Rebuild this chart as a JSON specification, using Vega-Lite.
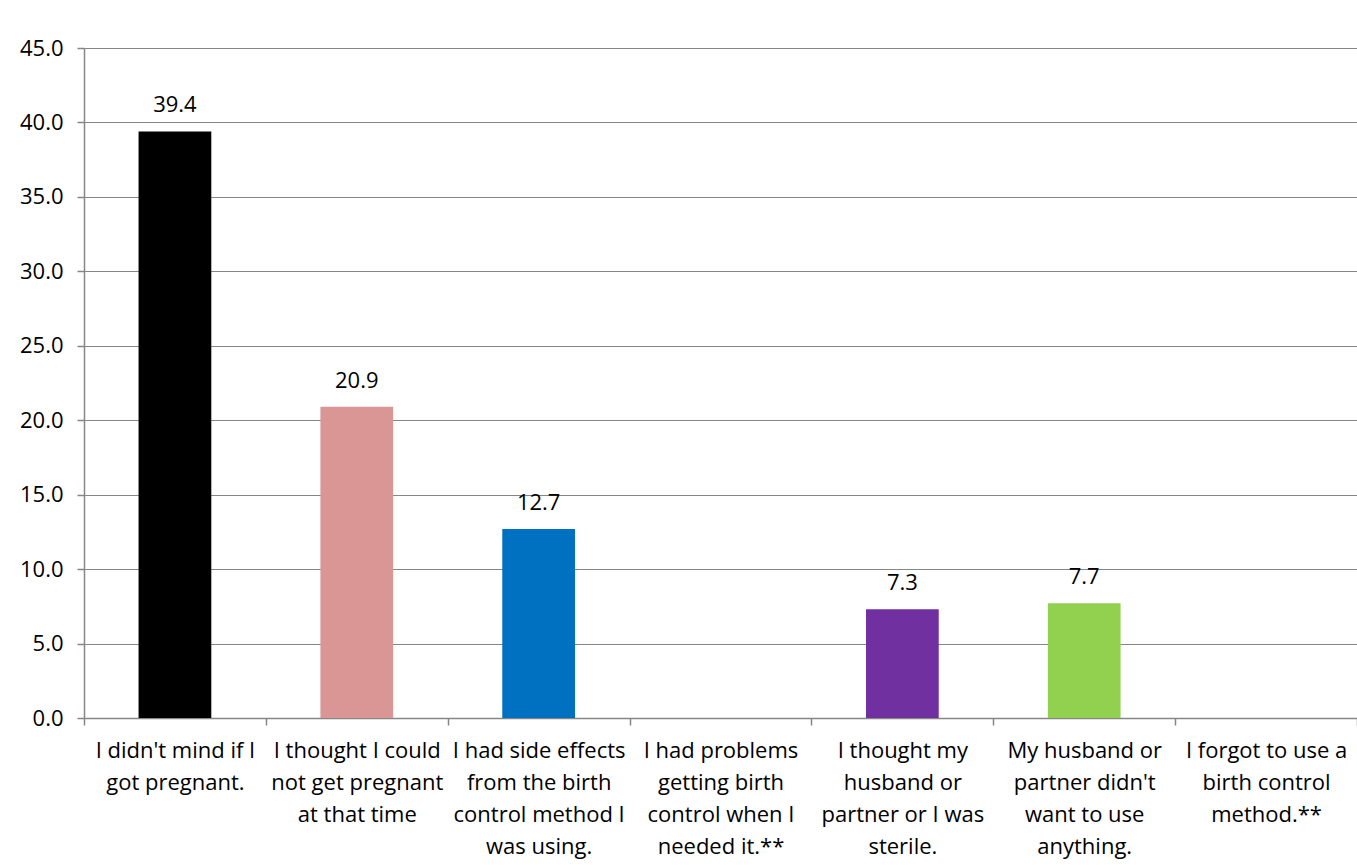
{
  "$schema": "https://vega.github.io/schema/vega-lite/v6.json",
  "width": 1273,
  "height": 670,
  "autosize": {"type": "none"},
  "padding": {"left": 84, "top": 48, "right": 0, "bottom": 147},
  "background": "white",
  "config": {
    "view": {"stroke": null},
    "font": "Open Sans",
    "axis": {
      "labelFont": "Open Sans",
      "labelFontSize": 22,
      "labelColor": "#000000",
      "domainColor": "#868686",
      "tickColor": "#868686",
      "gridColor": "#868686",
      "domainWidth": 1.5,
      "gridWidth": 1.2,
      "tickWidth": 1.5,
      "tickSize": 7,
      "title": null
    }
  },
  "data": {
    "values": [
      {"reason": "I didn't mind if I|got pregnant.", "pct": 39.4, "color": "#000000"},
      {"reason": "I thought I could|not get pregnant|at that time", "pct": 20.9, "color": "#D99694"},
      {"reason": "I had side effects|from the birth|control method I|was using.", "pct": 12.7, "color": "#0070C0"},
      {"reason": "I had problems|getting birth|control when I|needed it.**", "pct": null, "color": "#FFFFFF"},
      {"reason": "I thought my|husband or|partner or I was|sterile.", "pct": 7.3, "color": "#7030A0"},
      {"reason": "My husband or|partner didn't|want to use|anything.", "pct": 7.7, "color": "#92D050"},
      {"reason": "I forgot to use a|birth control|method.**", "pct": null, "color": "#FFFFFF"}
    ]
  },
  "encoding": {
    "x": {
      "field": "reason",
      "type": "nominal",
      "sort": null,
      "scale": {
        "domain": [
          "I didn't mind if I|got pregnant.",
          "I thought I could|not get pregnant|at that time",
          "I had side effects|from the birth|control method I|was using.",
          "I had problems|getting birth|control when I|needed it.**",
          "I thought my|husband or|partner or I was|sterile.",
          "My husband or|partner didn't|want to use|anything.",
          "I forgot to use a|birth control|method.**"
        ],
        "paddingInner": 0,
        "paddingOuter": 0
      },
      "axis": {
        "labelAngle": 0,
        "tickBand": "extent",
        "labelExpr": "split(datum.label, '|')",
        "labelLineHeight": 32,
        "labelPadding": 15,
        "labelBaseline": "top",
        "labelLimit": 400,
        "grid": false
      }
    },
    "y": {
      "field": "pct",
      "type": "quantitative",
      "scale": {"domain": [0, 45], "nice": false},
      "axis": {
        "values": [0, 5, 10, 15, 20, 25, 30, 35, 40, 45],
        "format": ".1f",
        "grid": true,
        "labelPadding": 14
      }
    }
  },
  "layer": [
    {
      "mark": {"type": "bar", "width": {"band": 0.4}},
      "encoding": {
        "color": {"field": "color", "type": "nominal", "scale": null}
      }
    },
    {
      "mark": {"type": "text", "baseline": "alphabetic", "dy": -19, "fontSize": 22, "font": "Open Sans", "color": "#000000"},
      "encoding": {
        "text": {"field": "pct", "type": "quantitative", "format": ".1f"}
      }
    }
  ]
}
